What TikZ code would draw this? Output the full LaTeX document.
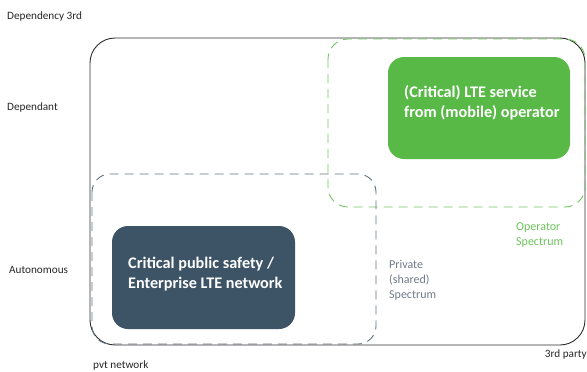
\documentclass[tikz,border=0pt]{standalone}
\usepackage{fontspec}
\setmainfont{Carlito}
\definecolor{opgreen}{RGB}{88,185,71}
\definecolor{dashgreen}{RGB}{112,198,95}
\definecolor{darkslate}{RGB}{61,83,102}
\definecolor{dashgray}{RGB}{98,112,128}
\definecolor{txtgray}{RGB}{110,122,136}
\definecolor{txtgreen}{RGB}{108,194,90}
\definecolor{outline}{RGB}{45,45,45}
\begin{document}
\begin{tikzpicture}[x=1pt,y=-1pt,
  lbl/.style={font=\fontsize{11.2}{13}\selectfont, text=black!85, inner sep=0pt, anchor=west},
  sublbl/.style={font=\fontsize{12}{15}\selectfont, inner sep=0pt, anchor=west, align=left},
  svcbox/.style={rounded corners=16pt, inner sep=0pt},
  svctxt/.style={font=\fontsize{16.2}{20}\selectfont\bfseries, text=white, align=left, anchor=west, inner sep=0pt},
  dashbox/.style={line width=0.9pt, dash pattern=on 9pt off 6pt}
]
\useasboundingbox (0,0) rectangle (587,372);
% outer frame
\draw[outline, line width=0.9pt, rounded corners=25pt] (90,38) rectangle (585,345);
% dashed regions
\draw[dashbox, dashgreen, rounded corners=20pt] (328,39) rectangle (585,207);
\draw[dashbox, dashgray, rounded corners=18pt] (92,174) rectangle (376,344);
% service nodes
\node[svcbox, fill=opgreen, minimum width=182pt, minimum height=102pt] (op) at (479,108) {};
\node[svctxt] (optxt) at (404,103) {(Critical) LTE service\\from (mobile) operator};
\node[svcbox, fill=darkslate, minimum width=183pt, minimum height=103pt] (pvt) at (203.5,277.5) {};
\node[svctxt] (pvttxt) at (128,274) {Critical public safety /\\Enterprise LTE network};
% axis labels
\node[lbl] (dep3) at (7,17) {Dependency 3rd};
\node[lbl] (depd) at (7,108) {Dependant};
\node[lbl] (auto) at (9,270) {Autonomous};
\node[lbl] (pvtnet) at (93,366) {pvt network};
\node[lbl, anchor=east] (third) at (587,355) {3rd party};
% spectrum labels
\node[sublbl, text=txtgray] (priv) at (389,280) {Private\\(shared)\\Spectrum};
\node[sublbl, text=txtgreen] (opsp) at (516,235.5) {Operator\\Spectrum};
\end{tikzpicture}
\end{document}
